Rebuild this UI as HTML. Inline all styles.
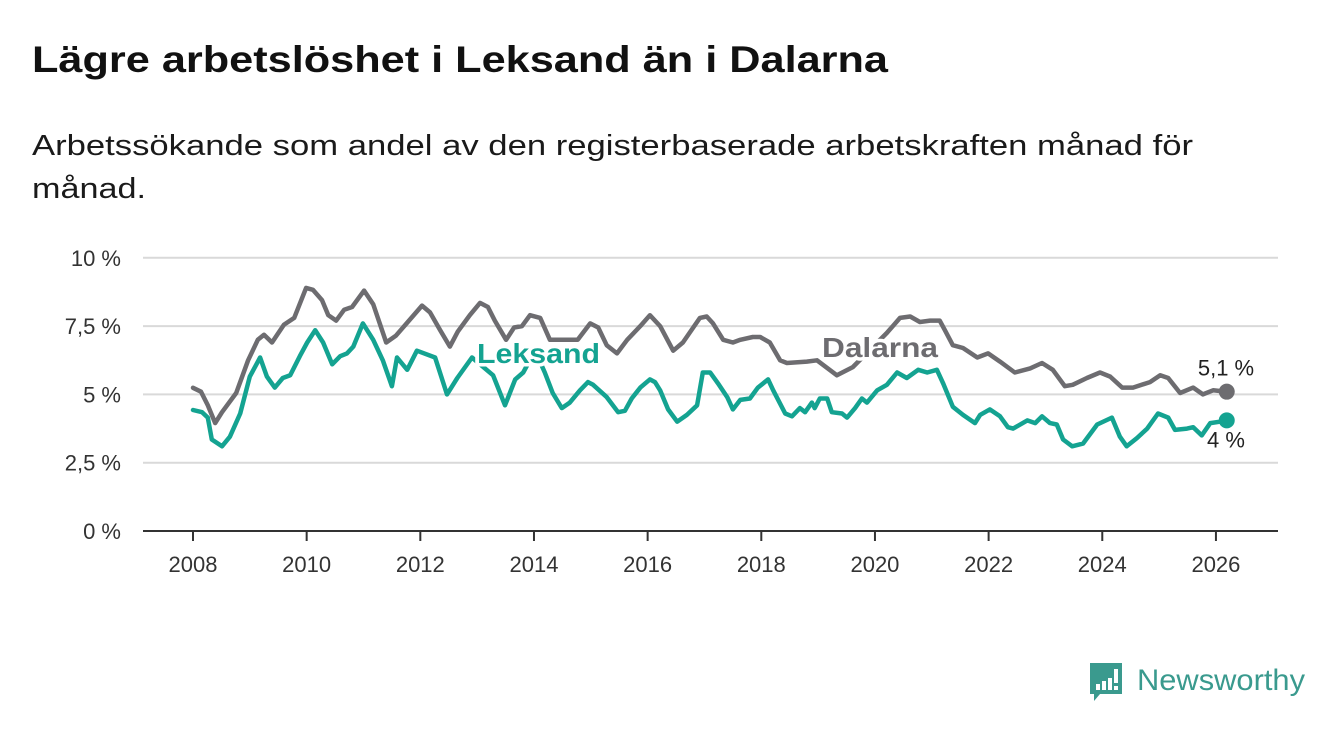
<!DOCTYPE html>
<html><head><meta charset="utf-8">
<style>
html,body{margin:0;padding:0;background:#fff;width:1340px;height:734px;overflow:hidden}
svg{display:block;font-family:"Liberation Sans","DejaVu Sans",sans-serif}
</style></head>
<body>
<svg id="chart" width="1340" height="734" viewBox="0 0 1340 734">
<text x="32" y="72" font-size="37" font-weight="bold" fill="#111" textLength="856" lengthAdjust="spacingAndGlyphs">Lägre arbetslöshet i Leksand än i Dalarna</text>
<text x="32" y="155" font-size="29" fill="#1a1a1a" textLength="1161" lengthAdjust="spacingAndGlyphs">Arbetssökande som andel av den registerbaserade arbetskraften månad för</text>
<text x="32" y="198" font-size="29" fill="#1a1a1a" textLength="114" lengthAdjust="spacingAndGlyphs">månad.</text>
<g id="grid"></g>
<g id="xaxis"></g>
<g id="series"></g>
<g id="labels"></g>
<g>
  <path d="M1090 663 h32 v31 h-22 l-6 7 v-7 h-4 z" fill="#3a9a8e"/>
  <rect x="1096" y="684" width="4" height="6" fill="#fff"/>
  <rect x="1102" y="681" width="4" height="9" fill="#fff"/>
  <rect x="1108" y="678" width="4" height="12" fill="#fff"/>
  <rect x="1114" y="669" width="4" height="14" fill="#fff"/>
  <rect x="1114" y="686" width="4" height="4" fill="#fff"/>
  <text x="1137" y="690" font-size="30" fill="#3a9a8e" textLength="168" lengthAdjust="spacingAndGlyphs">Newsworthy</text>
</g>
</svg>
<script>
const yTicks=[0,2.5,5,7.5,10];
const yTickLabels=["0 %","2,5 %","5 %","7,5 %","10 %"];
const xTicks=[2008,2010,2012,2014,2016,2018,2020,2022,2024,2026];
const dalarnaDates=[2008.00,2008.14,2008.26,2008.39,2008.51,2008.76,2008.97,2009.14,2009.25,2009.39,2009.60,2009.78,2009.99,2010.11,2010.27,2010.38,2010.52,2010.66,2010.80,2011.01,2011.17,2011.40,2011.57,2011.78,2012.03,2012.17,2012.35,2012.52,2012.66,2012.87,2013.05,2013.19,2013.31,2013.51,2013.65,2013.79,2013.93,2014.11,2014.28,2014.77,2014.99,2015.13,2015.28,2015.46,2015.64,2015.87,2016.04,2016.22,2016.45,2016.62,2016.92,2017.04,2017.15,2017.33,2017.50,2017.63,2017.85,2017.98,2018.15,2018.33,2018.45,2018.80,2018.98,2019.33,2019.61,2020.21,2020.44,2020.62,2020.79,2020.97,2021.14,2021.23,2021.37,2021.55,2021.80,2021.99,2022.20,2022.46,2022.73,2022.94,2023.13,2023.34,2023.48,2023.73,2023.96,2024.14,2024.35,2024.54,2024.84,2025.02,2025.16,2025.37,2025.60,2025.77,2025.95,2026.19];
const dalarnaValues=[5.24,5.1,4.6,3.95,4.35,5.05,6.25,7.0,7.18,6.9,7.55,7.8,8.9,8.83,8.45,7.9,7.7,8.1,8.2,8.8,8.3,6.9,7.15,7.65,8.25,8.0,7.35,6.75,7.3,7.9,8.35,8.2,7.7,7.0,7.45,7.5,7.9,7.8,7.0,7.0,7.6,7.45,6.8,6.5,7.0,7.5,7.9,7.5,6.6,6.9,7.8,7.85,7.6,7.0,6.9,7.0,7.1,7.1,6.9,6.25,6.15,6.2,6.25,5.7,6.0,7.25,7.8,7.85,7.65,7.7,7.7,7.35,6.8,6.7,6.35,6.5,6.2,5.8,5.95,6.15,5.9,5.3,5.35,5.6,5.8,5.65,5.25,5.25,5.45,5.7,5.6,5.05,5.25,5.0,5.15,5.1];
const leksandDates=[2008.00,2008.16,2008.26,2008.33,2008.51,2008.65,2008.83,2009.00,2009.18,2009.30,2009.44,2009.58,2009.71,2009.88,2010.01,2010.15,2010.29,2010.45,2010.59,2010.71,2010.82,2010.99,2011.17,2011.34,2011.50,2011.59,2011.77,2011.94,2012.26,2012.47,2012.65,2012.91,2013.28,2013.49,2013.67,2013.81,2014.02,2014.19,2014.33,2014.49,2014.63,2014.81,2014.95,2015.04,2015.28,2015.48,2015.60,2015.72,2015.87,2016.04,2016.13,2016.22,2016.36,2016.52,2016.69,2016.87,2016.97,2017.10,2017.24,2017.40,2017.50,2017.63,2017.80,2017.94,2018.12,2018.21,2018.42,2018.54,2018.68,2018.77,2018.89,2018.94,2019.03,2019.16,2019.24,2019.42,2019.51,2019.65,2019.77,2019.86,2020.04,2020.21,2020.39,2020.56,2020.76,2020.92,2021.09,2021.20,2021.37,2021.55,2021.76,2021.85,2022.02,2022.20,2022.34,2022.43,2022.68,2022.82,2022.94,2023.08,2023.20,2023.31,2023.47,2023.66,2023.91,2024.17,2024.31,2024.43,2024.61,2024.79,2024.98,2025.16,2025.28,2025.49,2025.60,2025.75,2025.90,2026.07,2026.19];
const leksandValues=[4.43,4.35,4.15,3.35,3.1,3.45,4.3,5.65,6.35,5.65,5.25,5.6,5.7,6.4,6.9,7.35,6.9,6.1,6.4,6.5,6.75,7.6,7.0,6.25,5.3,6.35,5.9,6.6,6.35,5.0,5.6,6.35,5.7,4.6,5.55,5.8,6.6,5.8,5.05,4.5,4.7,5.15,5.45,5.35,4.9,4.35,4.4,4.85,5.25,5.55,5.45,5.15,4.45,4.0,4.25,4.6,5.8,5.8,5.4,4.9,4.45,4.8,4.85,5.25,5.55,5.15,4.3,4.2,4.5,4.35,4.7,4.5,4.85,4.85,4.35,4.3,4.15,4.5,4.85,4.7,5.15,5.35,5.8,5.6,5.9,5.8,5.9,5.4,4.55,4.25,3.95,4.25,4.45,4.2,3.8,3.75,4.05,3.95,4.2,3.95,3.9,3.35,3.1,3.2,3.9,4.15,3.45,3.1,3.4,3.75,4.3,4.15,3.7,3.75,3.8,3.5,3.95,4.0,4.05];

const NS='http://www.w3.org/2000/svg';
const X=t=>193+(t-2008)*56.83;
const Y=v=>531-v*27.32;
function mk(tag,attrs,parent){const e=document.createElementNS(NS,tag);for(const k in attrs)e.setAttribute(k,attrs[k]);parent.appendChild(e);return e;}
const grid=document.getElementById('grid');
yTicks.forEach((v,i)=>{
  if(v>0){const l=mk('line',{x1:143,x2:1278,y1:Y(v),y2:Y(v),stroke:'#d9d9d9','stroke-width':2},grid);
  
  }
  const t=mk('text',{x:121,y:Y(v)+8,'font-size':22,fill:'#333','text-anchor':'end'},grid);
  t.textContent=yTickLabels[i];
  
  
});
const xa=document.getElementById('xaxis');
const ax=mk('line',{x1:143,x2:1278,y1:531,y2:531,stroke:'#333','stroke-width':2},xa);


xTicks.forEach(yr=>{
  const tk=mk('line',{x1:X(yr),x2:X(yr),y1:531,y2:541,stroke:'#333','stroke-width':2},xa);
  
  
  const t=mk('text',{x:X(yr),y:572,'font-size':22,fill:'#333','text-anchor':'middle'},xa);
  t.textContent=yr;
  
  
});
const sg=document.getElementById('series');
function line(dates,vals,color,name){
  const d=dates.map((t,i)=>(i?'L':'M')+X(t).toFixed(1)+' '+Y(vals[i]).toFixed(1)).join(' ');
  const p=mk('path',{d:d,fill:'none',stroke:color,'stroke-width':4.5,'stroke-linejoin':'round','stroke-linecap':'round'},sg);
  
  
  const n=dates.length-1;
  const c=mk('circle',{cx:X(dates[n]),cy:Y(vals[n]),r:8,fill:color},sg);
  
  
}
line(dalarnaDates,dalarnaValues,'#6d6c70','dalarna');
line(leksandDates,leksandValues,'#14a391','leksand');
const lg=document.getElementById('labels');
function lab(x,y,txt,color,size,weight,name,anchor,len){
  const a={x:x,y:y,'font-size':size,'font-weight':weight,fill:color,stroke:'#fff','stroke-width':7,'paint-order':'stroke','stroke-linejoin':'round','text-anchor':anchor||'start'};
  if(len){a.textLength=len;a.lengthAdjust='spacingAndGlyphs';}
  const t=mk('text',a,lg);
  t.textContent=txt;
  
  
}
lab(477,363,'Leksand','#14a391',28,'bold','leksand-label','start',123);
lab(822,357,'Dalarna','#6d6c70',28,'bold','dalarna-label','start',116);
const dn=dalarnaValues.length-1, ln=leksandValues.length-1;
lab(1226,Y(dalarnaValues[dn])-16,String(dalarnaValues[dn]).replace('.',',')+' %','#222',22,'normal','dalarna-end-value','middle');
lab(1226,Y(leksandValues[ln])+27,Math.round(leksandValues[ln])+' %','#222',22,'normal','leksand-end-value','middle');
</script>
</body></html>
